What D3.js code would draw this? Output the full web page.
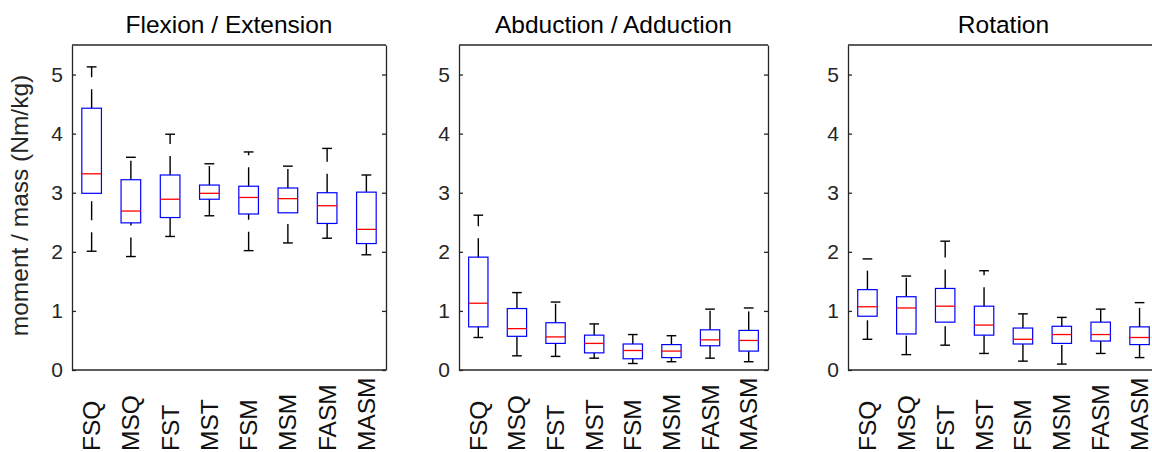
<!DOCTYPE html>
<html>
<head>
<meta charset="utf-8">
<script src="https://cdn.jsdelivr.net/npm/d3@7"></script>
<style>
  body { margin: 0; background: #fff; }
  svg { display: block; font-family: "Liberation Sans", Arial, Helvetica, sans-serif; }
</style>
</head>
<body>
<svg id="chart" width="1152" height="452"></svg>
<script>
// Groups along the x axis of every panel
const categories = ["FSQ", "MSQ", "FST", "MST", "FSM", "MSM", "FASM", "MASM"];
const yTicks = [0, 1, 2, 3, 4, 5];
const panelTitles = ["Flexion / Extension", "Abduction / Adduction", "Rotation"];

// Flexion / Extension: whisker ends, quartiles and medians (Nm/kg)
const flexLow  = [2.01, 1.92, 2.26, 2.61, 2.02, 2.15, 2.23, 1.95];
const flexQ1   = [2.99, 2.49, 2.58, 2.89, 2.64, 2.66, 2.48, 2.14];
const flexMed  = [3.32, 2.69, 2.89, 2.99, 2.92, 2.90, 2.78, 2.38];
const flexQ3   = [4.43, 3.22, 3.30, 3.13, 3.11, 3.08, 3.00, 3.01];
const flexHigh = [5.13, 3.60, 3.99, 3.49, 3.69, 3.45, 3.75, 3.30];

// Abduction / Adduction
const abdLow  = [0.55, 0.24, 0.23, 0.20, 0.11, 0.14, 0.20, 0.14];
const abdQ1   = [0.73, 0.57, 0.45, 0.29, 0.19, 0.21, 0.41, 0.32];
const abdMed  = [1.13, 0.70, 0.56, 0.45, 0.33, 0.32, 0.51, 0.50];
const abdQ3   = [1.91, 1.04, 0.80, 0.59, 0.44, 0.43, 0.68, 0.67];
const abdHigh = [2.62, 1.31, 1.15, 0.78, 0.60, 0.58, 1.03, 1.05];

// Rotation
const rotLow  = [0.52, 0.26, 0.42, 0.28, 0.15, 0.10, 0.28, 0.21];
const rotQ1   = [0.91, 0.61, 0.81, 0.59, 0.44, 0.45, 0.49, 0.43];
const rotMed  = [1.07, 1.05, 1.08, 0.76, 0.52, 0.60, 0.60, 0.55];
const rotQ3   = [1.36, 1.24, 1.38, 1.08, 0.71, 0.74, 0.81, 0.73];
const rotHigh = [1.88, 1.59, 2.18, 1.68, 0.95, 0.89, 1.03, 1.14];

const seriesSets = [
  [flexLow, flexQ1, flexMed, flexQ3, flexHigh],
  [abdLow, abdQ1, abdMed, abdQ3, abdHigh],
  [rotLow, rotQ1, rotMed, rotQ3, rotHigh]
];

// Layout of the three axes (the third one runs past the right edge)
const panelLeft = [72, 459, 848];
const panelWidth = [314, 309, 311];
const plotTop = 45, plotBottom = 370;
const axisColor = "#262626";

const svg = d3.select("#chart");

seriesSets.forEach((set, p) => {
  const [low, q1, med, q3, high] = set;
  const stats = categories.map((c, i) => ({
    cat: c, low: low[i], q1: q1[i], med: med[i], q3: q3[i], high: high[i]
  }));

  const x0 = panelLeft[p], x1 = panelLeft[p] + panelWidth[p];
  const x = d3.scaleBand().domain(categories).range([x0, x1]).padding(0);
  const y = d3.scaleLinear().domain([0, 5.5]).range([plotBottom, plotTop]);
  const bw = x.bandwidth();
  const cx = d => x(d.cat) + bw / 2;

  const g = svg.append("g");

  // Whiskers: dashed black lines, drawn upward from their lower end
  const whisk = g.append("g").attr("stroke", "#000").attr("stroke-width", 1.4)
    .attr("fill", "none").attr("stroke-dasharray", "19 12");
  whisk.selectAll("path.lo").data(stats).join("path").attr("class", "lo")
    .attr("d", d => `M${cx(d)},${y(d.low)}V${y(d.q1)}`);
  whisk.selectAll("path.hi").data(stats).join("path").attr("class", "hi")
    .attr("d", d => `M${cx(d)},${y(d.q3)}V${y(d.high)}`);

  // Whisker caps
  const caps = g.append("g").attr("stroke", "#000").attr("stroke-width", 1.4);
  ["low", "high"].forEach(k => {
    caps.selectAll("line." + k).data(stats).join("line").attr("class", k)
      .attr("x1", d => cx(d) - bw * 0.125).attr("x2", d => cx(d) + bw * 0.125)
      .attr("y1", d => y(d[k])).attr("y2", d => y(d[k]));
  });

  // Boxes
  g.append("g").selectAll("rect").data(stats).join("rect")
    .attr("x", d => cx(d) - bw / 4).attr("width", bw / 2)
    .attr("y", d => y(d.q3)).attr("height", d => y(d.q1) - y(d.q3))
    .attr("fill", "none").attr("stroke", "#0000ff").attr("stroke-width", 1.2);

  // Medians
  g.append("g").selectAll("line").data(stats).join("line")
    .attr("x1", d => cx(d) - bw / 4).attr("x2", d => cx(d) + bw / 4)
    .attr("y1", d => y(d.med)).attr("y2", d => y(d.med))
    .attr("stroke", "#ff0000").attr("stroke-width", 1.3);

  // Frame: top and right edges
  g.append("line").attr("x1", x0).attr("x2", x1).attr("y1", plotTop).attr("y2", plotTop)
    .attr("stroke", axisColor).attr("stroke-width", 1.3);
  const rightAxis = g.append("g").attr("transform", `translate(${x1},0)`)
    .call(d3.axisRight(y).tickValues(yTicks).tickSizeInner(-4).tickSizeOuter(0).tickFormat(""));
  rightAxis.selectAll("path, line").attr("stroke", axisColor).attr("stroke-width", 1.3);

  // Left axis with inward ticks
  const leftAxis = g.append("g").attr("transform", `translate(${x0},0)`)
    .call(d3.axisLeft(y).tickValues(yTicks).tickFormat(d3.format("d"))
      .tickSizeInner(-4).tickSizeOuter(0).tickPadding(9));
  leftAxis.selectAll("path, line").attr("stroke", axisColor).attr("stroke-width", 1.3);
  leftAxis.selectAll("text").attr("fill", axisColor).style("font-size", "21px")
    .style("font-family", "'Liberation Sans', Arial, sans-serif");

  // Bottom axis with vertical category labels
  const bottomAxis = g.append("g").attr("transform", `translate(0,${plotBottom})`)
    .call(d3.axisBottom(x).tickSize(0).tickSizeOuter(0));
  bottomAxis.select("path").attr("stroke", axisColor).attr("stroke-width", 1.3)
    .attr("d", `M${x0},0H${x1}`);
  bottomAxis.selectAll("text")
    .attr("x", 0).attr("y", 0).attr("dy", null)
    .attr("transform", `translate(8.5,${451 - plotBottom}) rotate(-90)`)
    .style("text-anchor", "start")
    .attr("fill", "#111")
    .style("font-size", "24.5px")
    .style("font-family", "'Liberation Sans', Arial, sans-serif");

  // Panel title
  g.append("text").attr("x", (x0 + x1) / 2).attr("y", 33)
    .attr("text-anchor", "middle").attr("fill", "#000")
    .style("font-size", "24.5px").text(panelTitles[p]);
});

// Shared y-axis label
svg.append("text")
  .attr("transform", `translate(28,${(plotTop + plotBottom) / 2 - 2}) rotate(-90)`)
  .attr("text-anchor", "middle").attr("fill", axisColor)
  .style("font-size", "24.5px")
  .text("moment / mass (Nm/kg)");
</script>
</body>
</html>
